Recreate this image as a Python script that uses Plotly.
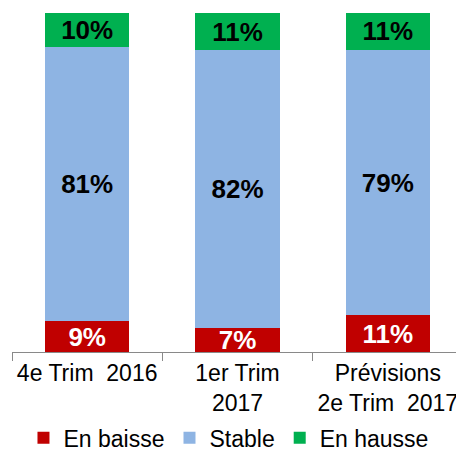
import plotly.graph_objects as go

categories = ["4e Trim\u00a0\u00a02016", "1er Trim<br>2017", "Prévisions<br>2e Trim\u00a0\u00a02017"]
baisse = [9, 7, 11]
stable = [81, 82, 79]
hausse = [10, 11, 11]

series = [
    ("En baisse", baisse, "#C00000", "white"),
    ("Stable", stable, "#8EB4E3", "black"),
    ("En hausse", hausse, "#00B050", "black"),
]

fig = go.Figure()
for name, vals, color, tcolor in series:
    fig.add_trace(go.Bar(
        x=categories, y=vals, name=name,
        marker=dict(color=color, line=dict(width=0)),
        text=[f"{v}%" for v in vals],
        textposition="inside", insidetextanchor="middle",
        constraintext="none",
        textfont=dict(family="Liberation Sans, Arial", size=26, color=tcolor, weight="bold"),
        cliponaxis=True,
    ))

fig.update_layout(
    barmode="stack", barnorm="percent", bargap=0.44,
    width=456, height=444,
    margin=dict(l=4, r=1, t=5, b=100, autoexpand=False),
    paper_bgcolor="white", plot_bgcolor="white",
    font=dict(family="Liberation Sans, Arial", size=23, color="black"),
    uniformtext=dict(minsize=26, mode="show"),
    showlegend=True,
    legend=dict(orientation="h", x=0.48, xanchor="center", y=-0.19, yanchor="top",
                font=dict(size=23), traceorder="normal", itemwidth=30),
    xaxis=dict(showline=True, linecolor="#898989", linewidth=1, automargin=False,
               ticks="outside", tickson="boundaries", ticklen=8, tickcolor="#898989",
               tickfont=dict(size=23), showgrid=False),
    yaxis=dict(visible=False, range=[0, 100], showgrid=False),
)

fig.write_html("out.html")
